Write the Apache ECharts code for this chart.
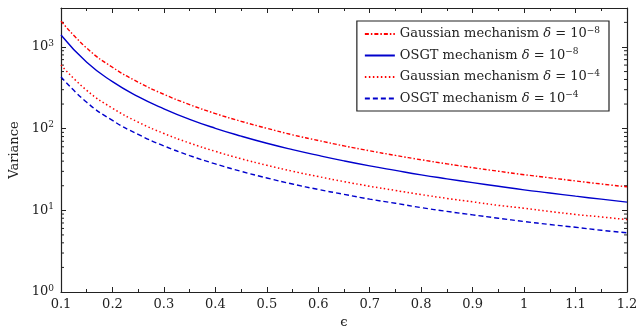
<!DOCTYPE html>
<html>
<head>
<meta charset="utf-8">
<script src="https://cdn.jsdelivr.net/npm/echarts@6/dist/echarts.min.js"></script>
<style>
  html, body { margin: 0; padding: 0; background: #fff; }
  #chart { width: 639px; height: 326px; }
</style>
</head>
<body>
<div id="chart"></div>
<script>
// epsilon values along the x axis
const epsilon = [0.1, 0.15, 0.2, 0.25, 0.3, 0.35, 0.4, 0.45, 0.5, 0.55, 0.6, 0.65,
  0.7, 0.75, 0.8, 0.85, 0.9, 0.95, 1.0, 1.05, 1.1, 1.15, 1.2];

// variance
const gauss8 = [2075, 968, 564, 371, 263, 197, 153, 123, 101, 84, 71.6, 61.5,
  53.5, 47, 41.6, 37.1, 33.3, 30.1, 27.3, 25.0, 22.9, 21.0, 19.4];
const osgt8 = [1400, 649, 376, 247, 175, 130, 101, 81, 66.3, 55.4, 47.0, 40.3,
  35.0, 30.8, 27.2, 24.3, 21.8, 19.7, 17.8, 16.3, 14.9, 13.7, 12.6];
const gauss4 = [600, 294, 178, 120, 87.3, 66.6, 52.7, 42.8, 35.6, 30.1, 25.9, 22.5,
  19.7, 17.5, 15.6, 14.0, 12.7, 11.5, 10.6, 9.7, 8.9, 8.3, 7.7];
const osgt4 = [430, 210, 126, 85, 61.5, 46.8, 37.0, 30.0, 24.9, 21.0, 18.0, 15.7,
  13.7, 12.2, 10.8, 9.7, 8.8, 8.0, 7.3, 6.7, 6.2, 5.7, 5.3];

const seriesNames = [
  "Gaussian mechanism δ = 10^-8",
  "OSGT mechanism δ = 10^-8",
  "Gaussian mechanism δ = 10^-4",
  "OSGT mechanism δ = 10^-4",
];

// log-spaced minor ticks for the y axis
const yMinorTicks = [2, 3, 4, 5, 6, 7, 8, 9, 20, 30, 40, 50, 60, 70, 80, 90,
  200, 300, 400, 500, 600, 700, 800, 900, 2000];

const X_MIN = 0.1, X_MAX = 1.2, Y_MIN = 1, Y_MAX = 3000;
const FONT = "DejaVu Serif";
const RED = "#ff0000", BLUE = "#0000cc";

const pairs = (ys) => epsilon.map((x, i) => [x, ys[i]]);

const chart = echarts.init(document.getElementById("chart"), null, { renderer: "canvas" });

const rich = {
  t: { fontFamily: FONT, fontSize: 13, color: "#222" },
  i: { fontFamily: FONT, fontSize: 13, fontStyle: "italic", color: "#222" },
  s: { fontFamily: FONT, fontSize: 9, color: "#222", verticalAlign: "top", padding: [0, 0, 7, 0] },
};

const axisLine = { show: true, lineStyle: { color: "#222", width: 1.2 } };

const option = {
  animation: false,
  grid: { left: 61, right: 12, top: 8, bottom: 34, outerBoundsMode: "none" },
  legend: {
    orient: "vertical",
    right: 30,
    top: 21,
    padding: [5, 9, 6, 7],
    itemGap: 7,
    itemWidth: 30,
    itemHeight: 15,
    borderColor: "#222",
    borderWidth: 1.2,
    borderRadius: 0,
    backgroundColor: "#fff",
    itemStyle: { opacity: 0 },
    data: seriesNames,
    textStyle: { rich: rich },
    formatter: (name) => {
      const m = name.match(/^(.*) δ = 10\^(.*)$/);
      return "{t|" + m[1] + " }{i|δ}{t| = 10}{s|−" + m[2].slice(1) + "}";
    },
  },
  xAxis: [
    {
      type: "value",
      min: X_MIN,
      max: X_MAX,
      interval: 0.1,
      name: "ϵ",
      nameLocation: "middle",
      nameGap: 20,
      nameTextStyle: { fontFamily: FONT, fontSize: 13, color: "#222" },
      axisLine: axisLine,
      axisTick: { inside: true, length: 5, lineStyle: { color: "#222" } },
      minorTick: { show: true, splitNumber: 2, length: 3, lineStyle: { color: "#222" } },
      splitLine: { show: false },
      axisLabel: {
        fontFamily: FONT, fontSize: 13, color: "#222", margin: 6,
        formatter: (v) => String(Math.round(v * 10) / 10),
      },
    },
    {
      type: "value",
      position: "top",
      min: X_MIN,
      max: X_MAX,
      interval: 0.1,
      axisLine: axisLine,
      axisTick: { inside: true, length: 5, lineStyle: { color: "#222" } },
      minorTick: { show: true, splitNumber: 2, length: 3, lineStyle: { color: "#222" } },
      splitLine: { show: false },
      axisLabel: { show: false },
    },
  ],
  yAxis: [
    {
      type: "log",
      min: Y_MIN,
      max: Y_MAX,
      name: "Variance",
      nameLocation: "middle",
      nameGap: 40,
      nameTextStyle: { fontFamily: FONT, fontSize: 13, color: "#222" },
      axisLine: axisLine,
      axisTick: { inside: true, length: 5, lineStyle: { color: "#222" } },
      splitLine: { show: false },
      axisLabel: {
        margin: 7,
        showMaxLabel: false,
        rich: rich,
        formatter: (v) => {
          const p = Math.log10(v);
          if (Math.abs(p - Math.round(p)) > 1e-6) return "";
          return "{t|10}{s|" + Math.round(p) + "}";
        },
      },
    },
    {
      type: "log",
      position: "right",
      min: Y_MIN,
      max: Y_MAX,
      axisLine: axisLine,
      axisTick: { inside: true, length: 5, lineStyle: { color: "#222" } },
      splitLine: { show: false },
      axisLabel: { show: false },
    },
  ],
  series: [
    {
      name: seriesNames[0],
      type: "line",
      data: pairs(gauss8),
      smooth: true,
      showSymbol: false,
      symbol: "none",
      lineStyle: { color: RED, width: 1.4, type: [4, 2, 1.5, 2] },
      itemStyle: { color: RED },
    },
    {
      name: seriesNames[1],
      type: "line",
      data: pairs(osgt8),
      smooth: true,
      showSymbol: false,
      symbol: "none",
      lineStyle: { color: BLUE, width: 1.4, type: "solid" },
      itemStyle: { color: BLUE },
    },
    {
      name: seriesNames[2],
      type: "line",
      data: pairs(gauss4),
      smooth: true,
      showSymbol: false,
      symbol: "none",
      lineStyle: { color: RED, width: 1.5, type: [1.5, 2.5] },
      itemStyle: { color: RED },
    },
    {
      name: seriesNames[3],
      type: "line",
      data: pairs(osgt4),
      smooth: true,
      showSymbol: false,
      symbol: "none",
      lineStyle: { color: BLUE, width: 1.4, type: [5, 3] },
      itemStyle: { color: BLUE },
    },
    {
      // minor log ticks on left and right frame
      type: "custom",
      silent: true,
      data: yMinorTicks,
      encode: { y: 0 },
      renderItem: (params, api) => {
        const v = api.value(0);
        const l = api.coord([X_MIN, v]);
        const r = api.coord([X_MAX, v]);
        const style = { stroke: "#222", lineWidth: 1 };
        return {
          type: "group",
          children: [
            { type: "line", shape: { x1: l[0], y1: l[1], x2: l[0] + 3, y2: l[1] }, style: style },
            { type: "line", shape: { x1: r[0], y1: r[1], x2: r[0] - 3, y2: r[1] }, style: style },
          ],
        };
      },
    },
  ],
};

chart.setOption(option);
</script>
</body>
</html>
